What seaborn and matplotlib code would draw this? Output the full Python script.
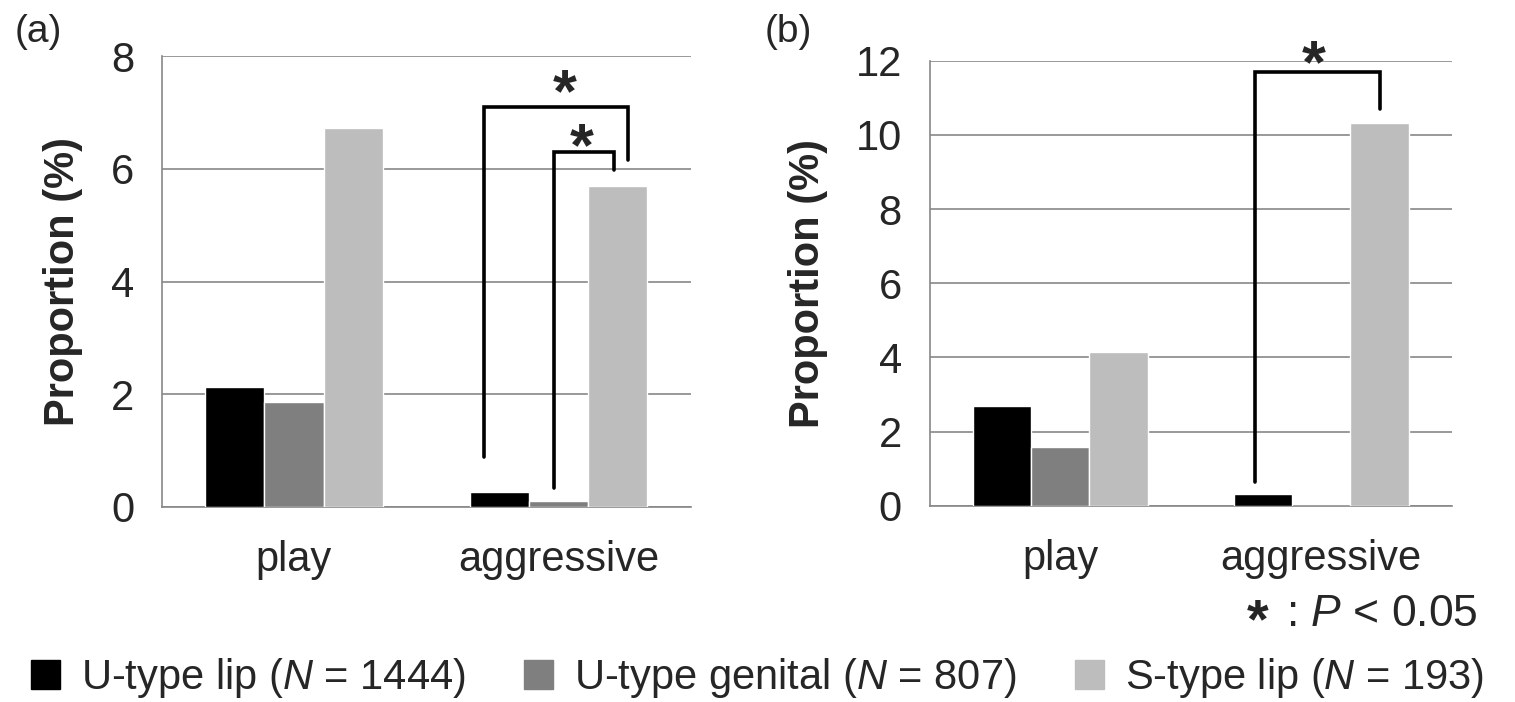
import matplotlib
matplotlib.use("Agg")
import matplotlib.pyplot as plt
import matplotlib.patches as mpatches
import seaborn as sns
import pandas as pd

# ---------------- data ----------------
behaviors = ["play", "aggressive"]
types = ["U-type lip", "U-type genital", "S-type lip"]
type_n = [1444, 807, 193]
vals_a_ulip = [2.12, 0.26]
vals_a_ugen = [1.86, 0.11]
vals_a_slip = [6.73, 5.70]
vals_b_ulip = [2.69, 0.31]
vals_b_ugen = [1.59, 0.0]
vals_b_slip = [4.15, 10.33]
yticks_a = [0, 2, 4, 6, 8]
yticks_b = [0, 2, 4, 6, 8, 10, 12]
colors = ["#000000", "#7f7f7f", "#bdbdbd"]

sns.set_theme(style="white")
plt.rcParams["font.family"] = ["Liberation Sans", "DejaVu Sans"]
plt.rcParams["mathtext.fontset"] = "custom"
plt.rcParams["mathtext.rm"] = "Liberation Sans"
plt.rcParams["mathtext.it"] = "Liberation Sans:italic"
plt.rcParams["mathtext.bf"] = "Liberation Sans:bold"

def make_df(a, b, c):
    rows = []
    for t, vals in zip(types, [a, b, c]):
        for beh, v in zip(behaviors, vals):
            rows.append({"behavior": beh, "type": t, "value": v})
    return pd.DataFrame(rows)

df_a = make_df(vals_a_ulip, vals_a_ugen, vals_a_slip)
df_b = make_df(vals_b_ulip, vals_b_ugen, vals_b_slip)

W, H = 1515, 702
fig = plt.figure(figsize=(W / 100, H / 100), dpi=100)
ax_a = fig.add_axes([161.8 / W, 1 - 507 / H, (690.6 - 161.8) / W, (507 - 56) / H])
ax_b = fig.add_axes([929.6 / W, 1 - 505.7 / H, (1451.8 - 929.6) / W, (505.7 - 60.7) / H])

grid_col = "#878787"
FS = 30

def style(ax, df, yticks, ymax):
    sns.barplot(data=df, x="behavior", y="value", hue="type", order=behaviors,
                hue_order=types, palette=colors, width=0.67, gap=0,
                saturation=1, ax=ax, legend=False, errorbar=None, zorder=3)
    ax.set_xlim(-0.5, 1.5)
    ax.set_ylim(0, ymax)
    ax.set_yticks(yticks)
    ax.set_yticklabels([str(t) for t in yticks], fontsize=FS)
    ax.set_xticks([0, 1])
    ax.set_xticklabels(behaviors, fontsize=FS)
    ax.set_xticks([-0.5, 0.5, 1.5], minor=True)
    ax.tick_params(axis="x", which="major", length=0, pad=24)
    ax.tick_params(axis="x", which="minor", length=7, width=1.2, color=grid_col, direction="out")
    ax.tick_params(axis="y", which="major", length=14, width=1.2, color=grid_col, direction="out", pad=6)
    ax.yaxis.grid(True, color=grid_col, linewidth=1.2, zorder=0)
    ax.set_axisbelow(True)
    for s in ["top", "right"]:
        ax.spines[s].set_visible(False)
    for s in ["left", "bottom"]:
        ax.spines[s].set_color(grid_col)
        ax.spines[s].set_linewidth(1.2)
    ax.set_xlabel("")
    ax.set_ylabel("Proportion (%)", fontsize=FS, fontweight="bold", labelpad=20)

style(ax_a, df_a, yticks_a, 8)
style(ax_b, df_b, yticks_b, 12)

fig.text(15 / W, 1 - 32 / H, "(a)", fontsize=28, ha="left", va="center")
fig.text(765 / W, 1 - 32 / H, "(b)", fontsize=28, ha="left", va="center")

# significance brackets: (xs, ys), star (x, y)
brackets_a = [([0.718, 0.718, 1.262, 1.262], [0.89, 7.10, 7.10, 6.16], (1.023, 7.30)),
              ([0.985, 0.985, 1.21, 1.21], [0.34, 6.29, 6.29, 5.98], (1.087, 6.34))]
brackets_b = [([0.747, 0.747, 1.226, 1.226], [0.65, 11.69, 11.69, 10.69], (0.97, 11.85))]

for ax, brs in [(ax_a, brackets_a), (ax_b, brackets_b)]:
    for xs, ys, (sx, sy) in brs:
        ax.plot(xs, ys, color="black", lw=2.6, clip_on=False, zorder=5,
                solid_joinstyle="miter")
        ax.text(sx, sy, "*", fontsize=44, fontweight="bold", ha="center",
                va="center", clip_on=False, zorder=6)

# p-value note
fig.text(1258 / W, 1 - 623 / H, "*", fontsize=40, fontweight="bold", ha="center", va="center")
fig.text(1478 / W, 1 - 615 / H, r": $P$ < 0.05", fontsize=32, ha="right", va="center")

# legend
handles = [mpatches.Patch(color=c, label=f"{t} ($N$ = {n})") for c, t, n in zip(colors, types, type_n)]
fig.legend(handles=handles, loc="center", bbox_to_anchor=(0.5, 1 - 678 / H), ncol=3,
           frameon=False, fontsize=FS, handlelength=0.7, handleheight=0.7,
           handletextpad=0.5, columnspacing=1.4, borderaxespad=0)

fig.savefig("out.png", dpi=100)
